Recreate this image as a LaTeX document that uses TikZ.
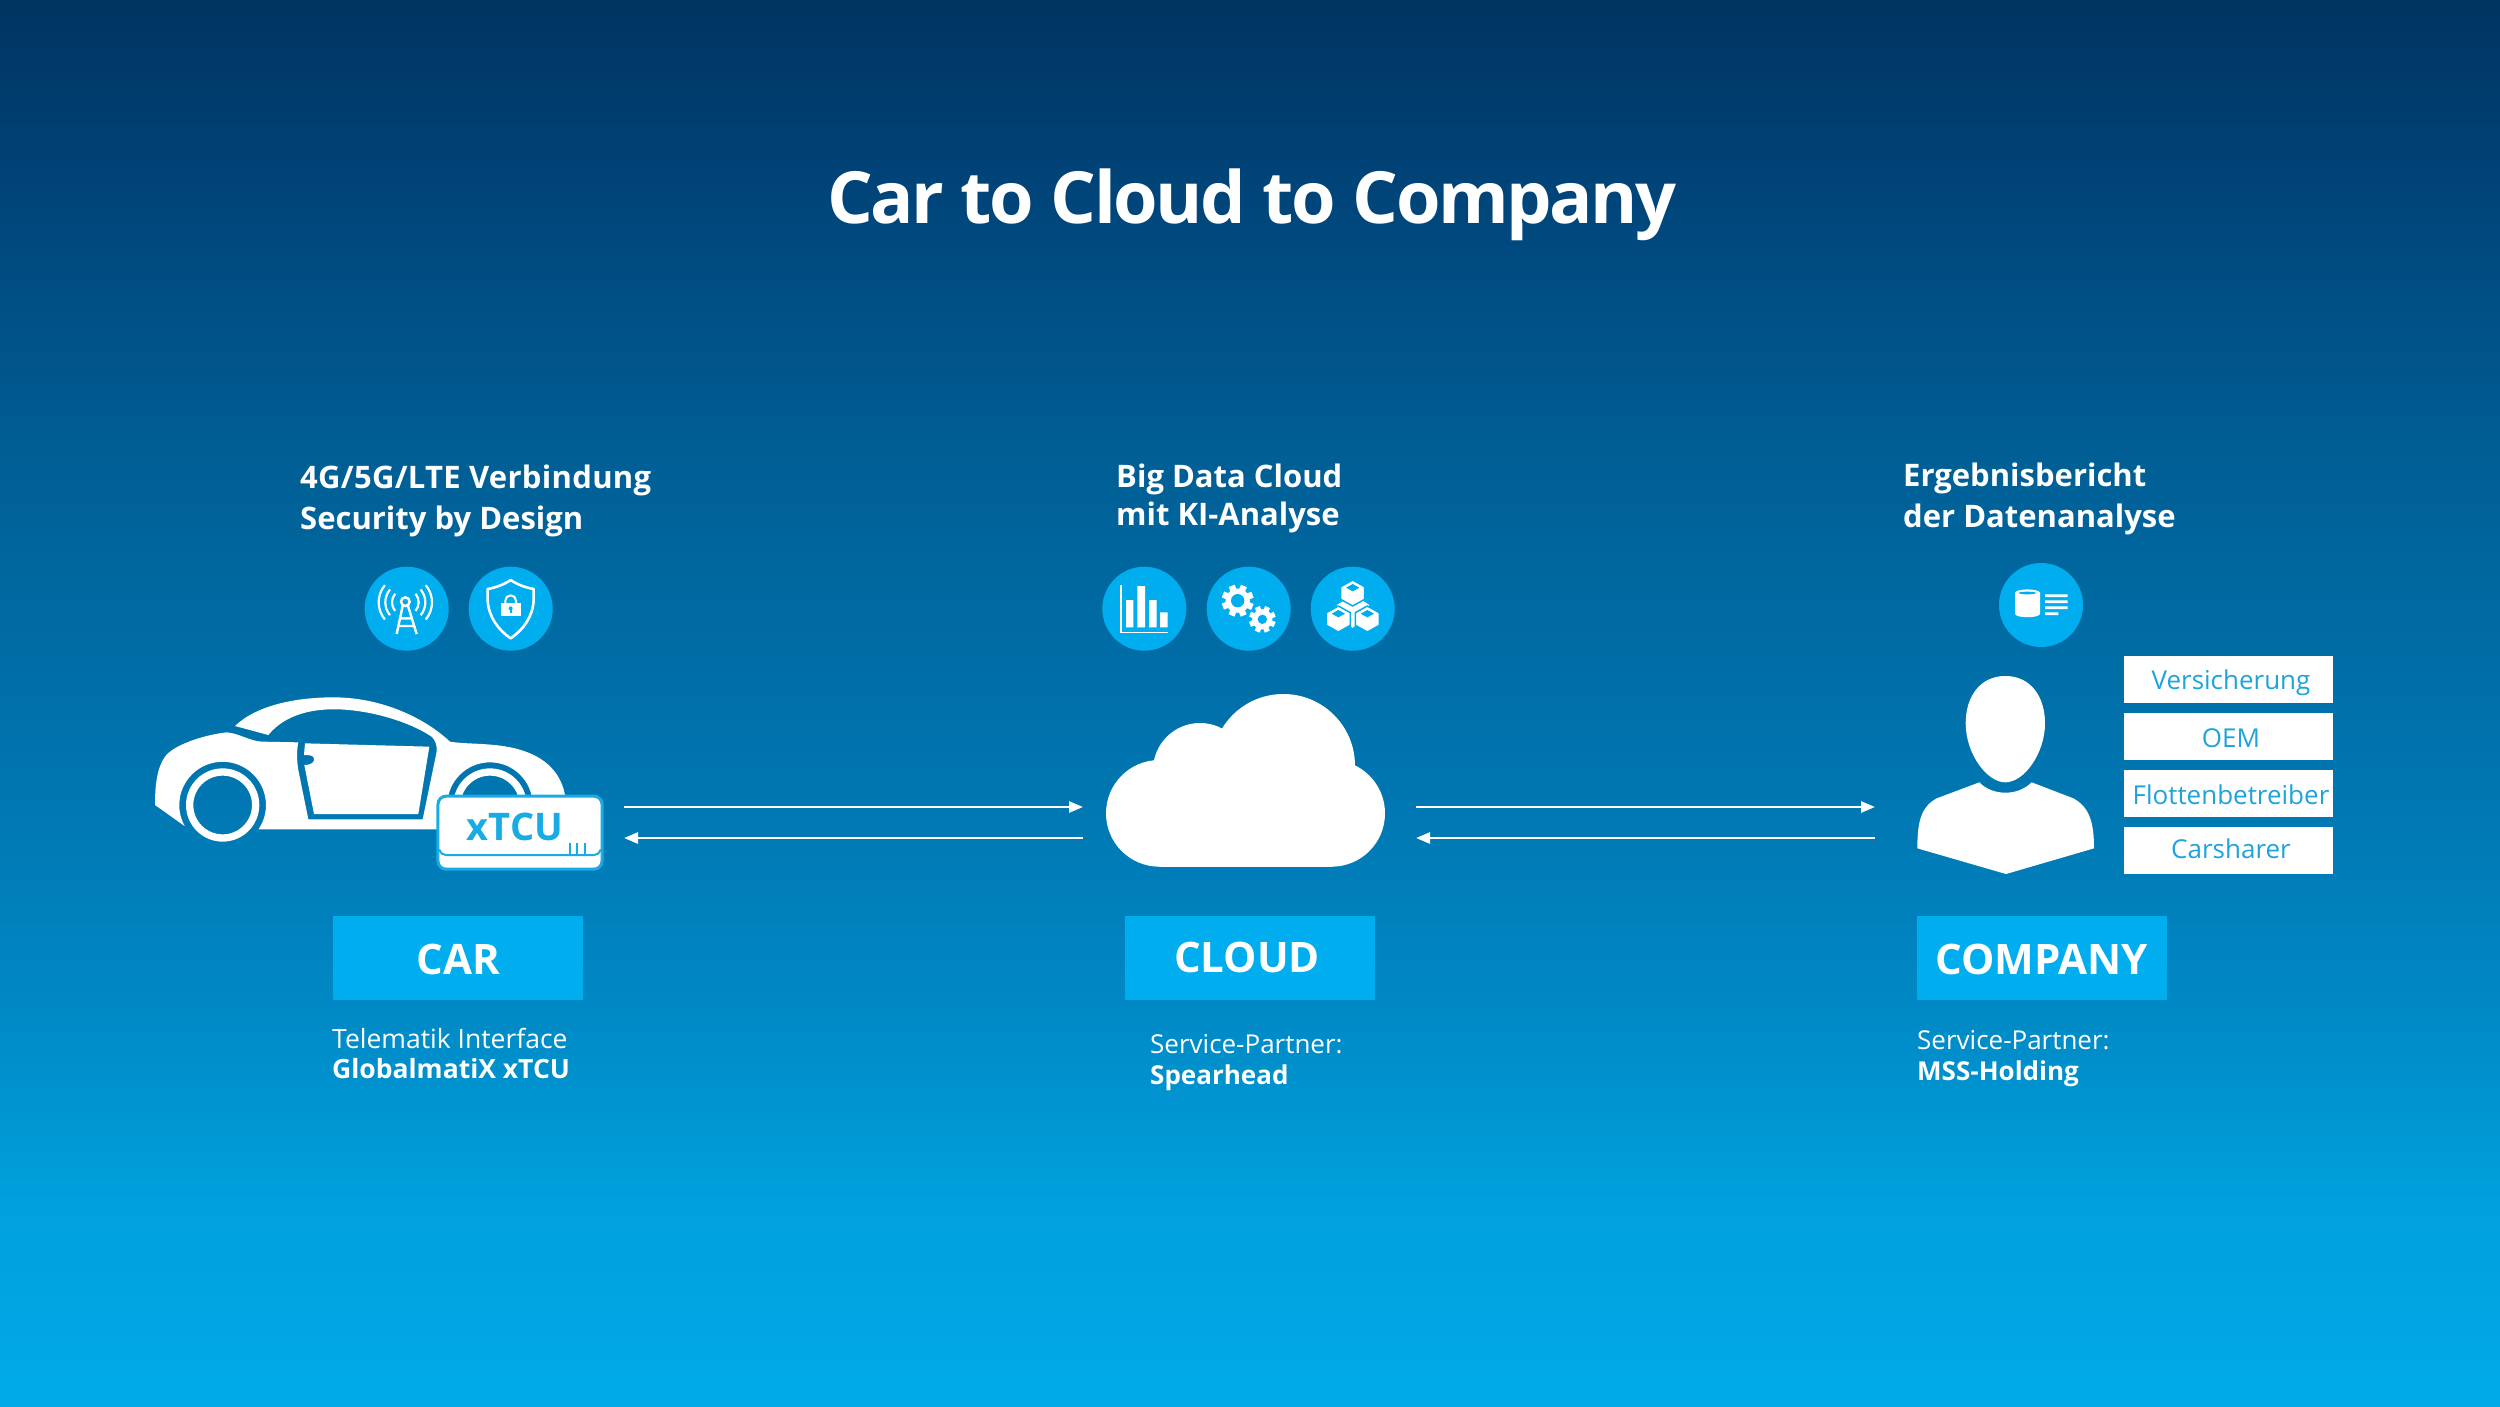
\documentclass[tikz,border=0pt]{standalone}
\usepackage{fontspec}
\setmainfont{Open Sans}
\usetikzlibrary{arrows.meta}

\definecolor{bgA}{HTML}{003461}
\definecolor{bgB}{HTML}{00457A}
\definecolor{bgC}{HTML}{005E94}
\definecolor{bgD}{HTML}{0077B2}
\definecolor{bgE}{HTML}{0088C4}
\definecolor{bgF}{HTML}{00A0DC}
\definecolor{bgG}{HTML}{00AAE8}
\definecolor{discblue}{HTML}{00ADEE}
\definecolor{clienttext}{HTML}{1FA3DB}
\definecolor{tcublue}{HTML}{18ABE4}

\pgfdeclareverticalshading{bgshade}{100bp}{color(0bp)=(bgG); color(25bp)=(bgG); color(32.33bp)=(bgF);
  color(39.44bp)=(bgE); color(46.55bp)=(bgD); color(59bp)=(bgC); color(67.89bp)=(bgB); color(75bp)=(bgA); color(100bp)=(bgA)}

\tikzset{
  titletext/.style={text=white,anchor=base west,inner sep=0,font=\fontsize{72}{80}\bfseries\selectfont\addfontfeatures{LetterSpace=-3.3}},
  headtext/.style={text=white,anchor=base west,inner sep=0,align=left,font=\fontsize{31}{41}\bfseries\selectfont},
  subtext/.style={text=white,anchor=base west,inner sep=0,align=left,font=\fontsize{26}{30}\selectfont},
  badge/.style={fill=discblue,text=white,minimum width=250,minimum height=84,inner sep=0,text height=33pt,text depth=0pt,font=\fontsize{42}{46}\bfseries\selectfont},
  clientbox/.style={fill=white,text=clienttext,minimum width=209,minimum height=47,inner sep=0,text height=21.7pt,text depth=0pt,font=\fontsize{26}{30}\selectfont,execute at begin node={\hspace{5pt}}},
  icondisc/.style={circle,fill=discblue,minimum size=84,inner sep=0},
  dataflow/.style={white,line width=2.6,-{Triangle[length=14pt,width=11pt]}}
}

\begin{document}
\begin{tikzpicture}[x=1pt,y=-1pt]

\useasboundingbox (0,0) rectangle (2500,1406);

% background
\shade[shading=bgshade] (0,0) rectangle (2500,1406);

% title
\node[titletext] (title) at (827,223) {Car to Cloud to Company};

% head lines
\node[headtext] (carhead) at (300,529) {{\addfontfeatures{LetterSpace=1}4G/5G/LTE Verbindung}\\Security by Design};
\node[headtext,font=\fontsize{31}{38}\bfseries\selectfont] (cloudhead) at (1116,525) {Big Data Cloud\\mit KI-Analyse};
\node[headtext] (companyhead) at (1903,527.5) {Ergebnisbericht\\der Datenanalyse};

% icon discs
\node[icondisc] (antennadisc) at (406.7,608.7) {};
\node[icondisc] (shielddisc) at (510.7,608.7) {};
\node[icondisc] (barsdisc) at (1144.3,608.7) {};
\node[icondisc] (gearsdisc) at (1248.7,608.7) {};
\node[icondisc] (cubesdisc) at (1352.7,608.7) {};
\node[icondisc] (datadisc) at (2041,605) {};

% car and its icons
\begin{scope}[shift={(130,440)},scale=1/3]
  % body with window and door line left open
  \fill[white] (75,1095) .. controls (75,1040) and (80,985) .. (105,950)
    .. controls (130,915) and (220,885) .. (290,877)
    .. controls (330,880) and (360,905) .. (400,905) -- (505,907)
    .. controls (500,930) and (500,960) .. (505,990) -- (535,1138) -- (878,1138) -- (920,935)
    .. controls (922,915) and (915,900) .. (905,890)
    .. controls (830,840) and (700,805) .. (600,808)
    .. controls (530,810) and (460,830) .. (415,885) -- (315,858)
    .. controls (380,795) and (500,772) .. (610,772)
    .. controls (750,772) and (880,830) .. (960,905)
    .. controls (1020,915) and (1120,905) .. (1200,940)
    .. controls (1260,965) and (1295,1010) .. (1305,1065)
    -- (1305,1100) -- (1208,1095) arc[start angle=0,end angle=-180,radius=128]
    -- (952,1168) -- (385.6,1168) arc[start angle=34,end angle=-209,radius=130] -- cycle;
  % door
  \fill[white] (525,910) -- (898,920) -- (865,1122) -- (552,1122) -- (523,975)
    .. controls (545,975) and (555,965) .. (552,955) .. controls (550,945) and (535,945) .. (522,945) -- cycle;
  % wheels
  \foreach \cx in {278,1080}
    \draw[white,line width=7.3] (\cx,1095) circle (99);
  % xTCU box
  \node[fill=white,draw=tcublue,line width=3,rounded corners=8,minimum width=164,minimum height=73,inner sep=0] (xtcubox) at (1170,1178) {};
  \draw[tcublue,line width=2,rounded corners=5] (928,1228) -- (932,1245) -- (1408,1245) -- (1412,1228);
  \node[text=tcublue,anchor=base west,inner sep=0,font=\fontsize{38}{40}\bfseries\selectfont] (xtculabel) at (1010,1200) {xTCU};
  \foreach \bx in {1320,1342,1364}
    \draw[tcublue,line width=2] (\bx,1208) -- (\bx,1242);

  % antenna
  \foreach \rr in {40,60,80} {
    \draw[white,line width=2.2] (826,487) ++(-40:\rr) arc[start angle=-40,end angle=40,radius=\rr];
    \draw[white,line width=2.2] (826,487) ++(140:\rr) arc[start angle=140,end angle=220,radius=\rr];
  }
  \draw[white,line width=2.4] (826,485) circle (13);
  \draw[white,line width=2.4] (818,498) -- (800,582) (834,498) -- (860,582) (812,535) -- (842,535) (805,558) -- (852,558);

  % shield with lock
  \draw[white,line width=2.6,line join=round] (1142,420) .. controls (1120,435) and (1095,443) .. (1073,447) -- (1073,480)
    .. controls (1075,530) and (1105,570) .. (1142,595) .. controls (1179,570) and (1209,530) .. (1211,480)
    -- (1211,447) .. controls (1189,443) and (1164,435) .. (1142,420) -- cycle;
  \fill[white] (1112,490) rectangle (1172,528);
  \draw[white,line width=2] (1126,490) -- (1126,482) arc[start angle=180,end angle=360,radius=16] -- (1158,490);
  \fill[discblue] (1142,505) circle (6);
  \fill[discblue] (1139,505) rectangle (1145,520);
\end{scope}

% cloud and its icons
\begin{scope}[shift={(1080,540)},scale=1/3]
  \foreach \cx/\cy/\rr in {238/820/160,755/820/160,610/677/215,360/690/141}
    \fill[white] (\cx,\cy) circle (\rr);
  \fill[white] (238,680) rectangle (755,980);

  % bars
  \draw[white,line width=1.5] (123,135) -- (123,277) -- (265,277);
  \fill[white] (138,180) rectangle (160,262) (172,138) rectangle (195,262) (207,180) rectangle (230,262) (240,217) rectangle (263,262);

  % gears
  \foreach \cx/\cy/\rr/\hole in {473/182/48/20,547/238/40/14} {
    \fill[white] (\cx,\cy) circle (\rr*0.76);
    \foreach \a in {0,45,...,315}
      \fill[white,rotate around={\a+22:(\cx,\cy)}] (\cx-\rr*0.2,\cy-\rr) rectangle (\cx+\rr*0.2,\cy);
    \fill[discblue] (\cx,\cy) circle (\hole);
  }

  % cubes
  \fill[white] (770,195) -- (795,180) -- (845,180) -- (868,195) -- (838,245) -- (818,264) -- (798,245) -- cycle;
  \foreach \cx/\cy in {818/160,775/238,862/238} {
    \filldraw[white,draw=discblue,line width=1.5,line join=round] (\cx,\cy-40) -- (\cx+36,\cy-20) -- (\cx+36,\cy+18) -- (\cx,\cy+38) -- (\cx-36,\cy+18) -- (\cx-36,\cy-20) -- cycle;
    \fill[discblue] (\cx,\cy-28) -- (\cx+20,\cy-17) -- (\cx,\cy-6) -- (\cx-20,\cy-17) -- cycle;
  }
\end{scope}

% person and its icon
\begin{scope}[shift={(1880,550)},scale=1/3]
  \fill[white] (376,378) .. controls (300,378) and (257,440) .. (257,520)
    .. controls (257,610) and (320,697) .. (376,697)
    .. controls (432,697) and (495,610) .. (495,520)
    .. controls (495,440) and (452,378) .. (376,378) -- cycle;
  \fill[white] (298,697) .. controls (320,720) and (350,728) .. (376,728)
    .. controls (402,728) and (432,720) .. (455,697) -- (580,745)
    .. controls (625,770) and (642,810) .. (642,895) -- (378,972) -- (112,895)
    .. controls (112,810) and (125,770) .. (170,745) -- cycle;

  % data icon
  \fill[white] (405,128) -- (405,192) .. controls (410,205) and (475,205) .. (480,192) -- (480,128)
    .. controls (475,115) and (410,115) .. (405,128) -- cycle;
  \fill[discblue] (442,129) ellipse [x radius=26,y radius=4];
  \fill[white] (495,133) rectangle (563,141) (495,151) rectangle (563,159) (495,169) rectangle (563,177) (495,187) rectangle (535,195);
\end{scope}

% flow arrows
\coordinate (carout) at (624,807);
\coordinate (cloudin) at (1083,807);
\coordinate (cloudback) at (1083,838);
\coordinate (carin) at (624,838);
\coordinate (cloudout) at (1416,807);
\coordinate (companyin) at (1875,807);
\coordinate (companyback) at (1875,838);
\coordinate (cloudret) at (1416,838);
\draw[dataflow] (carout) -- (cloudin);
\draw[dataflow] (cloudback) -- (carin);
\draw[dataflow] (cloudout) -- (companyin);
\draw[dataflow] (companyback) -- (cloudret);

% client boxes
\node[clientbox] (versicherung) at (2228.5,679) {Versicherung};
\node[clientbox] (oem) at (2228.5,736.5) {OEM};
\node[clientbox] (flotte) at (2228.5,793.5) {Flottenbetreiber};
\node[clientbox,text depth=4.8pt] (carsharer) at (2228.5,850.5) {Carsharer};

% badges
\node[badge] (carbadge) at (458,957.5) {CAR};
\node[badge,text height=30pt] (cloudbadge) at (1250,957.5) {CLOUD\kern6pt};
\node[badge] (companybadge) at (2041.5,957.5) {COMPANY};

% partner lines
\node[subtext,font=\fontsize{26.5}{30}\selectfont] (carsub) at (332,1078.5) {Telematik Interface\\{\bfseries GlobalmatiX xTCU}};
\node[subtext,font=\fontsize{26}{31}\selectfont] (cloudsub) at (1150,1084.5) {Service-Partner:\\{\bfseries Spearhead}};
\node[subtext,font=\fontsize{26}{31.5}\selectfont] (companysub) at (1917,1080.5) {Service-Partner:\\{\bfseries MSS-Holding}};

\end{tikzpicture}
\end{document}
